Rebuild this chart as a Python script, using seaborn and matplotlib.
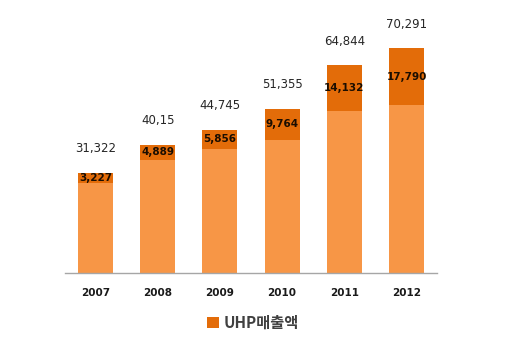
import matplotlib
matplotlib.use("Agg")
import matplotlib.pyplot as plt
import seaborn as sns
import pandas as pd
from matplotlib.patches import Patch

years = ["2007", "2008", "2009", "2010", "2011", "2012"]
total_sales = [31322, 40150, 44745, 51355, 64844, 70291]
total_labels = ["31,322", "40,15", "44,745", "51,355", "64,844", "70,291"]
uhp_sales = [3227, 4889, 5856, 9764, 14132, 17790]
uhp_labels = ["3,227", "4,889", "5,856", "9,764", "14,132", "17,790"]
legend_label = "UHP매출액"

light = "#F79646"
dark = "#E36C09"

sns.set_theme(style="white")
plt.rcParams["font.family"] = ["DejaVu Sans", "Noto Sans CJK KR"]

df = pd.DataFrame({
    "year": years,
    "total": total_sales,
    "uhp": uhp_sales,
})
df["base"] = df["total"] - df["uhp"]

fig = plt.figure(figsize=(5.2, 3.45), dpi=100)
ax = fig.add_axes([65 / 520, (345 - 273) / 345, 372 / 520, 256 / 345])

sns.barplot(data=df, x="year", y="total", color=dark, width=0.56,
            saturation=1, ax=ax, linewidth=0)
sns.barplot(data=df, x="year", y="base", color=light, width=0.56,
            saturation=1, ax=ax, linewidth=0)

ax.set_xlim(-0.49, 5.49)
ax.set_ylim(0, 80000)
ax.set_xlabel("")
ax.set_ylabel("")
ax.set_yticks([])
for s in ["top", "right", "left"]:
    ax.spines[s].set_visible(False)
ax.spines["bottom"].set_color("#A6A6A6")
ax.spines["bottom"].set_linewidth(1)
ax.tick_params(axis="x", length=0, pad=11)
for lab in ax.get_xticklabels():
    lab.set_fontsize(7.5)
    lab.set_fontweight("bold")
    lab.set_color("#1a1a1a")

for i in range(len(years)):
    ax.annotate(total_labels[i], (i, total_sales[i]), xytext=(0, 12.5),
                textcoords="offset points", ha="center", va="bottom",
                fontsize=8.5, color="#262626")
    ax.text(i, total_sales[i] - uhp_sales[i] / 2, uhp_labels[i],
            ha="center", va="center", fontsize=7.5, fontweight="bold",
            color="#1a0d00")

handles = [Patch(facecolor=dark, edgecolor="none", label=legend_label)]
fig.legend(handles=handles, loc="center", bbox_to_anchor=(253 / 520, 1 - 323 / 345),
           frameon=False, handlelength=0.75, handleheight=0.75,
           handletextpad=0.3, labelcolor="#404040",
           prop={"family": ["Noto Sans CJK KR", "DejaVu Sans"], "size": 11, "weight": "bold"})

fig.savefig("out.png", dpi=100)
